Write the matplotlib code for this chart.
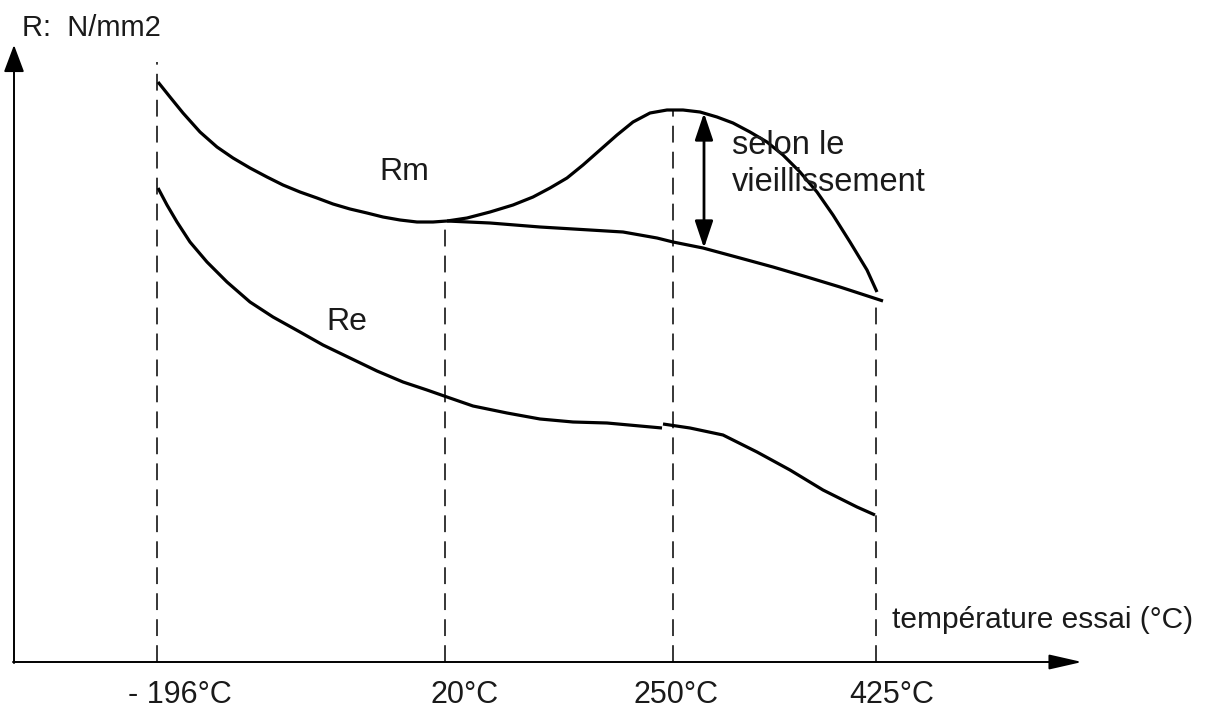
import matplotlib.pyplot as plt
from matplotlib.patches import ArrowStyle

plt.rcParams['font.family'] = ['Liberation Sans', 'DejaVu Sans']

# schematic positions of the test temperatures along the axis
temp_labels = ['- 196°C', '20°C', '250°C', '425°C']
temp_x = [143, 431, 659, 862]
label_x = [166, 451, 662, 878]

# Rm: main branch (-196 -> 20 °C)
rm_x = [144, 156, 169, 186, 203, 219, 236, 253, 269, 286, 303, 319, 336, 353, 369, 386, 403, 419, 433]
rm_y = [580, 565, 549, 530, 515, 504, 494, 485, 477, 470, 464, 458, 453, 449, 445, 442, 440, 440, 441]
# Rm with ageing hump (20 -> 425 °C)
rm_age_x = [433, 453, 476, 499, 519, 536, 553, 569, 586, 603, 619, 636, 653, 669, 686, 703, 719,
            736, 753, 769, 786, 803, 819, 836, 853, 863]
rm_age_y = [441, 444, 450, 457, 465, 474, 484, 497, 512, 527, 540, 549, 552, 552, 550, 545, 539,
            530, 520, 507, 490, 470, 447, 420, 392, 370]
# Rm without ageing
rm_base_x = [433, 476, 526, 576, 609, 643, 659, 689, 726, 759, 793, 826, 869]
rm_base_y = [441, 439, 435, 432, 430, 424, 420, 414, 404, 395, 385, 375, 361]
# Re, drawn in two pieces (small step at 250 °C)
re_x1 = [144, 153, 163, 176, 193, 213, 236, 259, 286, 309, 336, 363, 389, 413, 433, 459, 493,
         526, 559, 593, 626, 648]
re_y1 = [474, 457, 440, 420, 400, 380, 360, 345, 330, 317, 304, 291, 280, 272, 265, 256, 249,
         243, 240, 239, 236, 234]
re_x2 = [649, 676, 709, 743, 776, 809, 843, 861]
re_y2 = [238, 234, 227, 210, 192, 172, 155, 147]

fig = plt.figure(figsize=(12.11, 7.12), dpi=100)
ax = fig.add_axes([0, 0, 1, 1])
ax.set_xlim(-14, 1197)
ax.set_ylim(-50, 662)
ax.axis('off')

# dashed guides at each temperature
tops = [rm_y[0] + 20, rm_y[-1], max(rm_age_y), rm_base_y[-1]]
for x, top in zip(temp_x, tops):
    ax.plot([x, x], [0, top], color='black', lw=1.1, ls=(0, (11, 6)))

kw = dict(color='black', lw=2.3, solid_capstyle='butt', solid_joinstyle='round')
ax.plot(rm_x, rm_y, **kw)
ax.plot(rm_age_x, rm_age_y, **kw)
ax.plot(rm_base_x, rm_base_y, **kw)
ax.plot(re_x1, re_y1, **kw)
ax.plot(re_x2, re_y2, **kw)

# axes with arrow heads
ax.annotate('', xy=(0, 617), xytext=(0, -1),
            arrowprops=dict(arrowstyle=ArrowStyle('-|>', head_length=1.2, head_width=0.45),
                            mutation_scale=14, color='black', lw=1.4, shrinkA=0, shrinkB=0))
ax.annotate('', xy=(1068, 0), xytext=(-1, 0),
            arrowprops=dict(arrowstyle=ArrowStyle('-|>', head_length=1.45, head_width=0.33),
                            mutation_scale=14, color='black', lw=1.4, shrinkA=0, shrinkB=0))

# ageing double arrow
ax.annotate('', xy=(690, 549), xytext=(690, 414),
            arrowprops=dict(arrowstyle=ArrowStyle('<|-|>', head_length=1.1, head_width=0.37),
                            mutation_scale=15, color='black', lw=2.0, shrinkA=0, shrinkB=0))

tc = '#1a1a1a'
ax.text(8, 634, 'R:  N/mm2', fontsize=21, color=tc, ha='left', va='center')
ax.text(390, 490, 'Rm', fontsize=23, color=tc, ha='center', va='center')
ax.text(333, 340, 'Re', fontsize=23, color=tc, ha='center', va='center')
ax.text(718, 498, 'selon le\nvieillissement', fontsize=23.5, color=tc,
        ha='left', va='center', linespacing=1.25)
ax.text(878, 42, 'température essai (°C)', fontsize=21.5, color=tc, ha='left', va='center')
for lx, lab in zip(label_x, temp_labels):
    ax.text(lx, -33, lab, fontsize=22, color=tc, ha='center', va='center')

fig.savefig('out.png', dpi=100)
